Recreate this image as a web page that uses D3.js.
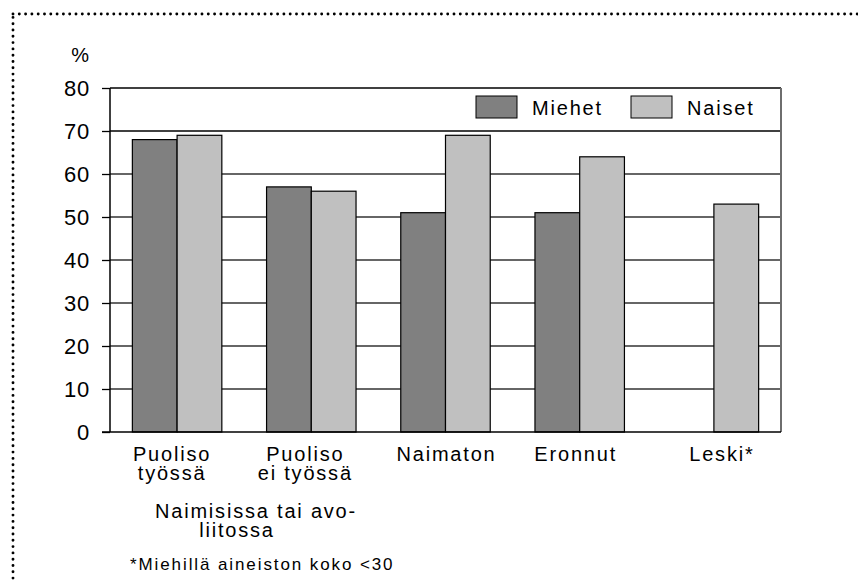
<!DOCTYPE html>
<html>
<head>
<meta charset="utf-8">
<script src="https://cdn.jsdelivr.net/npm/d3@7"></script>
<style>
  body { margin: 0; background: #fff; }
  svg { display: block; font-family: "Liberation Sans", Arial, sans-serif; }
</style>
</head>
<body>
<div id="chart"></div>
<script>
// data
var categories = ["Puoliso työssä", "Puoliso ei työssä", "Naimaton", "Eronnut", "Leski*"];
var catLines = [["Puoliso", "työssä"], ["Puoliso", "ei työssä"], ["Naimaton"], ["Eronnut"], ["Leski*"]];
var seriesNames = ["Miehet", "Naiset"];
var miehet = [68, 57, 51, 51, null];
var naiset = [69, 56, 69, 64, 53];
var yTicks = [0, 10, 20, 30, 40, 50, 60, 70, 80];
var colors = {"Miehet": "#808080", "Naiset": "#c0c0c0"};

var W = 858, H = 582;
var plot = {left: 110, right: 781, top: 88, bottom: 432};
// small horizontal nudges of the category labels (as in the original layout)
var labelShift = [-5, -6, 1, -4, 8];

var svg = d3.select("#chart").append("svg")
  .attr("width", W).attr("height", H);

// dotted frame (clipped at right/bottom like the original)
svg.append("rect")
  .attr("x", 13).attr("y", 14)
  .attr("width", 900).attr("height", 620)
  .attr("fill", "none")
  .attr("stroke", "#000")
  .attr("stroke-width", 2.9)
  .attr("stroke-linecap", "round")
  .attr("stroke-dasharray", "0 6.3");

var x0 = d3.scaleBand().domain(categories).range([plot.left, plot.right]).padding(0);
var x1 = d3.scaleBand().domain(seriesNames).range([0, x0.bandwidth()]).paddingInner(0).paddingOuter(0.5);
var y = d3.scaleLinear().domain([0, 80]).range([plot.bottom, plot.top]);

// gridlines
svg.append("g").selectAll("line").data(yTicks.filter(function(d){ return d > 0; }))
  .join("line")
  .attr("x1", plot.left).attr("x2", plot.right)
  .attr("y1", function(d){ return y(d); }).attr("y2", function(d){ return y(d); })
  .attr("stroke", function(d){ return d >= 70 ? "#000" : "#333"; })
  .attr("stroke-width", 1.3);

// bars
var rows = categories.map(function(c, i){
  return {cat: c, vals: [{s: "Miehet", v: miehet[i]}, {s: "Naiset", v: naiset[i]}]};
});
var grp = svg.append("g").selectAll("g").data(rows).join("g")
  .attr("transform", function(d){ return "translate(" + x0(d.cat) + ",0)"; });
grp.selectAll("rect").data(function(d){ return d.vals.filter(function(e){ return e.v != null; }); })
  .join("rect")
  .attr("x", function(d){ return x1(d.s); })
  .attr("width", x1.bandwidth())
  .attr("y", function(d){ return y(d.v); })
  .attr("height", function(d){ return y(0) - y(d.v); })
  .attr("fill", function(d){ return colors[d.s]; })
  .attr("stroke", "#000").attr("stroke-width", 1.2);

// right border
svg.append("line")
  .attr("x1", plot.right).attr("x2", plot.right)
  .attr("y1", plot.top).attr("y2", plot.bottom)
  .attr("stroke", "#6e6e6e").attr("stroke-width", 2);

// y axis
var yAxis = d3.axisLeft(y).tickValues(yTicks).tickSize(8).tickPadding(12);
var gy = svg.append("g").attr("transform", "translate(" + plot.left + ",0)").call(yAxis);
gy.select(".domain").attr("stroke", "#000").attr("stroke-width", 1.5).attr("d", "M0," + plot.top + "V" + plot.bottom);
gy.selectAll(".tick line").attr("stroke", "#000").attr("stroke-width", 1.3);
gy.selectAll(".tick text").attr("font-size", 22).attr("fill", "#000")
  .attr("letter-spacing", 0.8).attr("dy", "0.36em")
  .attr("font-family", "Liberation Sans, Arial, sans-serif");

// baseline
svg.append("line")
  .attr("x1", plot.left - 8).attr("x2", plot.right)
  .attr("y1", plot.bottom).attr("y2", plot.bottom)
  .attr("stroke", "#000").attr("stroke-width", 1.5);

// "%"
svg.append("text").attr("x", 89).attr("y", 62).attr("text-anchor", "end")
  .attr("font-size", 20).text("%");

// category labels
var cl = svg.append("g").selectAll("text").data(categories).join("text")
  .attr("y", 461)
  .attr("text-anchor", "middle")
  .attr("font-size", 20)
  .attr("letter-spacing", 1.8);
cl.each(function(d, i){
  var t = d3.select(this);
  var cx = x0(d) + x0.bandwidth() / 2 + labelShift[i];
  catLines[i].forEach(function(line, j){
    t.append("tspan").attr("x", cx)
      .attr("dy", j === 0 ? 0 : 19).text(line);
  });
});

// group note
svg.append("text").attr("x", 256).attr("y", 518).attr("text-anchor", "middle")
  .attr("font-size", 20).attr("letter-spacing", 1.8).text("Naimisissa tai avo-");
svg.append("text").attr("x", 237).attr("y", 537).attr("text-anchor", "middle")
  .attr("font-size", 20).attr("letter-spacing", 1.8).text("liitossa");

// footnote
svg.append("text").attr("x", 130).attr("y", 570)
  .attr("font-size", 17).attr("letter-spacing", 1.9).text("*Miehillä aineiston koko <30");

// legend
var legX = [476, 631];
var leg = svg.append("g").selectAll("g").data(seriesNames).join("g")
  .attr("transform", function(d, i){ return "translate(" + legX[i] + ",96)"; });
leg.append("rect").attr("width", 41).attr("height", 22)
  .attr("fill", function(d){ return colors[d]; })
  .attr("stroke", "#000").attr("stroke-width", 1);
leg.append("text").attr("x", 56).attr("y", 19)
  .attr("font-size", 20).attr("letter-spacing", 1.8).text(function(d){ return d; });
</script>
</body>
</html>
